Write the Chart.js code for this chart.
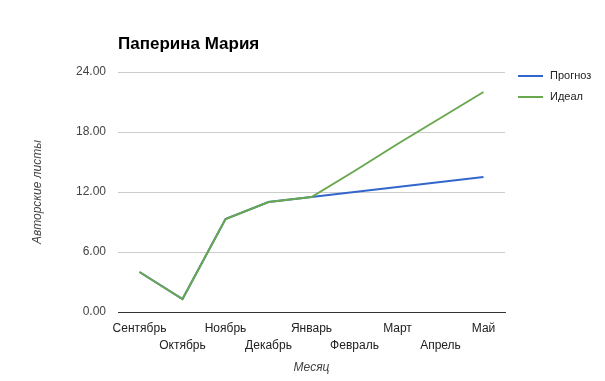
<!DOCTYPE html>
<html>
<head>
<meta charset="utf-8">
<script src="https://cdn.jsdelivr.net/npm/chart.js@4/dist/chart.umd.min.js"></script>
<style>
html,body{margin:0;padding:0;background:#fff;}
#wrap{width:605px;height:381px;position:relative;}
</style>
</head>
<body>
<div id="wrap"><canvas id="c" width="605" height="381"></canvas></div>
<script>
const chartTitle = 'Паперина Мария';
const months = ['Сентябрь','Октябрь','Ноябрь','Декабрь','Январь','Февраль','Март','Апрель','Май'];
const forecast = [4.0, 1.3, 9.3, 11.0, 11.5, 12.0, 12.5, 13.0, 13.5];
const ideal = [4.0, 1.3, 9.3, 11.0, 11.5, 14.1, 16.8, 19.4, 22.0];
const yTicks = [0, 6, 12, 18, 24];
const seriesNames = ['Прогноз', 'Идеал'];
const yAxisTitle = 'Авторские листы';
const xAxisTitle = 'Месяц';

const FONT = 'Arial, "Liberation Sans", sans-serif';

const customTitleLegend = {
  id: 'customTitleLegend',
  afterDraw(chart) {
    const ctx = chart.ctx;
    const area = chart.chartArea;
    ctx.save();
    ctx.fillStyle = '#000';
    ctx.font = 'bold 17px ' + FONT;
    ctx.textBaseline = 'middle';
    ctx.textAlign = 'left';
    ctx.fillText(chartTitle, area.left, 44);
    // legend
    ctx.font = '11px ' + FONT;
    chart.data.datasets.forEach((ds, i) => {
      const y = 76 + i * 21;
      ctx.strokeStyle = ds.borderColor;
      ctx.lineWidth = 2;
      ctx.beginPath();
      ctx.moveTo(518, y);
      ctx.lineTo(543, y);
      ctx.stroke();
      ctx.fillStyle = '#222';
      ctx.fillText(ds.label, 550, y);
    });
    ctx.restore();
  }
};

new Chart(document.getElementById('c'), {
  type: 'line',
  data: {
    labels: months,
    datasets: [
      { label: seriesNames[0], data: forecast, order: 2, borderColor: '#3366cc', backgroundColor: '#3366cc', borderWidth: 2, pointRadius: 0, tension: 0 },
      { label: seriesNames[1], data: ideal, order: 1, borderColor: '#6aa84f', backgroundColor: '#6aa84f', borderWidth: 2, pointRadius: 0, tension: 0 }
    ]
  },
  options: {
    responsive: false,
    animation: false,
    layout: { padding: { top: 72, right: 100, bottom: 0, left: 0 } },
    plugins: {
      legend: { display: false },
      title: { display: false },
      tooltip: { enabled: false }
    },
    scales: {
      x: {
        offset: true,
        grid: { display: false, drawTicks: false },
        border: { display: true, color: '#333', width: 1 },
        ticks: {
          autoSkip: false,
          maxRotation: 0,
          padding: 8,
          color: '#222',
          font: { family: FONT, size: 12, lineHeight: 1.45 },
          callback: function(v, i) { return i % 2 === 0 ? [months[i], ''] : ['', months[i]]; }
        },
        title: {
          display: true, text: xAxisTitle, color: '#444',
          font: { family: FONT, size: 12, style: 'italic' },
          padding: { top: 5, bottom: 6 }
        },
        afterFit(scale) { scale.height = 69; }
      },
      y: {
        min: 0, max: 24,
        afterBuildTicks(scale) { scale.ticks = yTicks.map(v => ({ value: v })); },
        grid: { color: (c) => c.tick && c.tick.value === 0 ? '#333' : '#ccc', drawTicks: false },
        border: { display: false },
        ticks: {
          padding: 12,
          color: '#444',
          font: { family: FONT, size: 12 },
          callback: (v) => Number(v).toFixed(2)
        },
        title: {
          display: true, text: yAxisTitle, color: '#444',
          font: { family: FONT, size: 12, style: 'italic' },
          padding: { top: 30, bottom: 30 }
        },
        afterFit(scale) { scale.width = 118; }
      }
    }
  },
  plugins: [customTitleLegend]
});
</script>
</body>
</html>
